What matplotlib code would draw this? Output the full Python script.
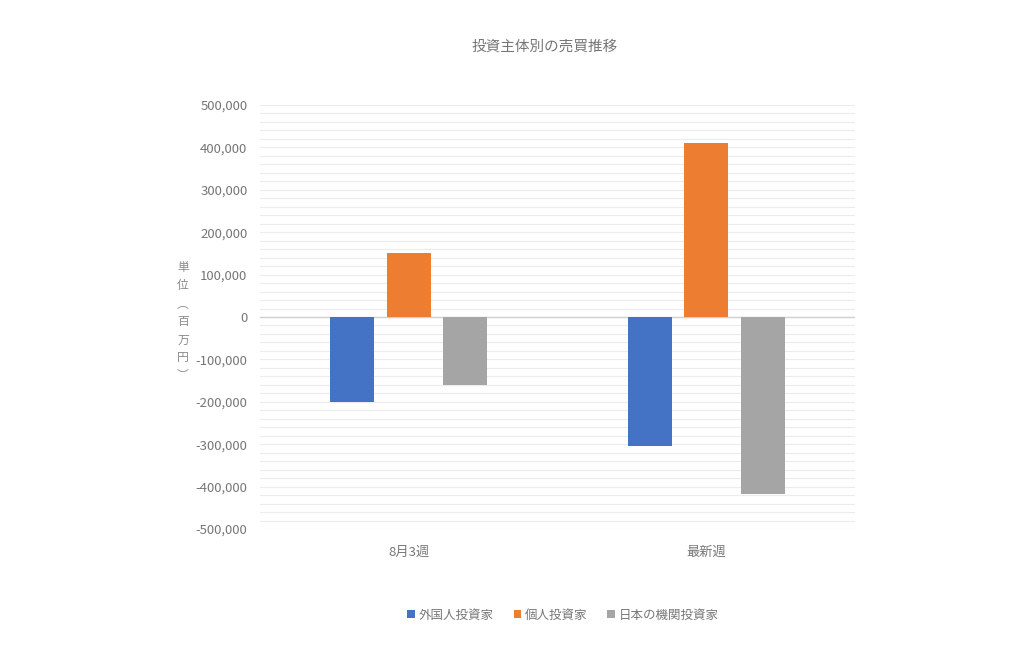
import matplotlib
matplotlib.use("Agg")
import matplotlib.pyplot as plt
import numpy as np
from matplotlib.ticker import FuncFormatter, MultipleLocator

plt.rcParams['font.family'] = ['Noto Sans CJK JP', 'DejaVu Sans']

categories = ['8月3週', '最新週']
series_names = ['外国人投資家', '個人投資家', '日本の機関投資家']
foreign = [-200000, -304000]
individual = [150000, 411000]
institutional = [-160000, -417000]
colors = ['#4472C4', '#ED7D31', '#A5A5A5']
title = '投資主体別の売買推移'
ylabel = '単位︵百万円︶'

txt = '#767676'

fig = plt.figure(figsize=(10.24, 6.69), dpi=100)
ax = fig.add_axes([260/1024, (669-529)/669, (855-260)/1024, (529-105)/669])

x = np.arange(len(categories))
width = 0.148
step = 0.19
for i, (vals, name, c) in enumerate(zip([foreign, individual, institutional], series_names, colors)):
    ax.bar(x + (i - 1) * step, vals, width, color=c, label=name, zorder=3)

ax.set_xlim(-0.5, 1.5)
ax.set_ylim(-500000, 500000)
ax.yaxis.set_major_locator(MultipleLocator(100000))
ax.yaxis.set_minor_locator(MultipleLocator(20000))
ax.yaxis.set_major_formatter(FuncFormatter(lambda v, p: f'{int(v):,}'))
ax.grid(axis='y', which='both', color='#ececec', linewidth=0.8, zorder=0)
ax.axhline(0, color='#d0d0d0', linewidth=1.0, zorder=2)
for s in ax.spines.values():
    s.set_visible(False)
ax.tick_params(axis='both', which='both', length=0, colors=txt, labelsize=9.5)
ax.tick_params(axis='y', pad=9)
ax.tick_params(axis='x', pad=12)
ax.set_xticks(x)
ax.set_xticklabels(categories)

fig.text(545/1024, 1 - 47/669, title, ha='center', va='center', fontsize=10.5, color=txt)
fig.text(183/1024, 1 - 322/669, '\n'.join(ylabel), ha='center', va='center', fontsize=8.5,
         color='#8a8a8a', linespacing=1.5)

leg = fig.legend(loc='center', bbox_to_anchor=(563/1024, 1 - 615/669), ncol=3, frameon=False,
                 fontsize=9, handlelength=0.6, handleheight=0.6, handletextpad=0.3, columnspacing=1.6)
for t in leg.get_texts():
    t.set_color(txt)

fig.savefig('out.png', dpi=100, facecolor='white')
